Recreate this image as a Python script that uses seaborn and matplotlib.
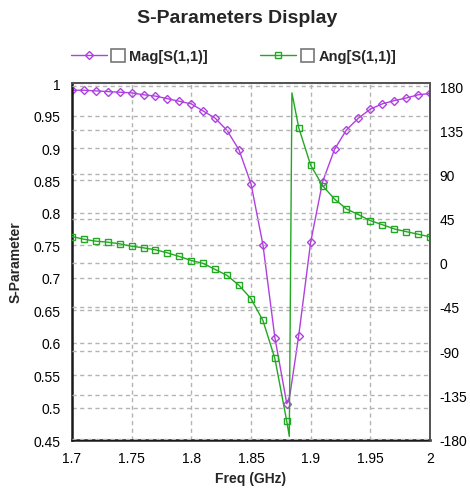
import matplotlib
matplotlib.use("Agg")
import matplotlib.pyplot as plt
import seaborn as sns
from matplotlib.lines import Line2D
from matplotlib.patches import Rectangle
from matplotlib.legend_handler import HandlerBase

mag_freq = [1.70, 1.71, 1.72, 1.73, 1.74, 1.75, 1.76, 1.77, 1.78, 1.79,
            1.80, 1.81, 1.82, 1.83, 1.84, 1.85, 1.86, 1.87, 1.88, 1.8825,
            1.89, 1.90, 1.91, 1.92, 1.93, 1.94, 1.95, 1.96, 1.97, 1.98,
            1.99, 2.00]
mag_s11 = [0.989, 0.989, 0.988, 0.987, 0.986, 0.985, 0.982, 0.980, 0.976, 0.972,
           0.968, 0.957, 0.946, 0.927, 0.897, 0.845, 0.751, 0.608, 0.506, 0.518,
           0.611, 0.755, 0.848, 0.898, 0.928, 0.946, 0.960, 0.968, 0.973, 0.977,
           0.982, 0.984]
mag_marks = [i for i, f in enumerate(mag_freq) if abs(f * 100 - round(f * 100)) < 1e-6]

ang_freq = [1.70, 1.71, 1.72, 1.73, 1.74, 1.75, 1.76, 1.77, 1.78, 1.79,
            1.80, 1.81, 1.82, 1.83, 1.84, 1.85, 1.86, 1.87, 1.88, 1.8821,
            1.8843, 1.89, 1.90, 1.91, 1.92, 1.93, 1.94, 1.95, 1.96, 1.97,
            1.98, 1.99, 2.00]
ang_s11 = [26.7, 24.0, 22.0, 21.0, 19.3, 16.9, 15.2, 13.2, 10.1, 6.4,
           2.3, -0.7, -6.8, -12.9, -23.0, -36.5, -58.8, -97.4, -161.6, -176.8,
           173.0, 137.6, 99.4, 78.4, 64.9, 54.8, 49.0, 42.9, 38.8, 34.5,
           31.7, 29.1, 26.4]
ang_marks = [i for i, f in enumerate(ang_freq) if abs(f * 100 - round(f * 100)) < 1e-6]

x_ticks = [1.7, 1.75, 1.8, 1.85, 1.9, 1.95, 2.0]
x_labels = ["1.7", "1.75", "1.8", "1.85", "1.9", "1.95", "2"]
left_ticks = [0.45, 0.5, 0.55, 0.6, 0.65, 0.7, 0.75, 0.8, 0.85, 0.9, 0.95, 1.0]
left_labels = ["0.45", "0.5", "0.55", "0.6", "0.65", "0.7", "0.75", "0.8", "0.85", "0.9", "0.95", "1"]
right_ticks = [-180, -135, -90, -45, 0, 45, 90, 135, 180]
right_labels = ["-180", "-135", "-90", "-45", "0", "45", "90", "135", "180"]

PURPLE = "#b040e0"
GREEN = "#22a822"
GRID = "#b4b4b4"


class LineBoxHandler(HandlerBase):
    # legend entry: trace line with marker, followed by a gray check box
    def create_artists(self, legend, orig_handle, xdescent, ydescent,
                       width, height, fontsize, trans):
        y = height / 2 - ydescent
        box = height * 1.05
        lw = width - box - 3
        x0 = -xdescent
        line = Line2D([x0, x0 + lw], [y, y], color=orig_handle.get_color(), lw=1)
        mk = Line2D([x0 + lw / 2], [y], marker=orig_handle.get_marker(),
                    markersize=4, markerfacecolor="none",
                    markeredgecolor=orig_handle.get_color(), linestyle="none")
        rect = Rectangle((x0 + lw + 3, y - box / 2), box, box,
                         facecolor="white", edgecolor="#777777", lw=1.2)
        for a in (line, mk, rect):
            a.set_transform(trans)
        return [line, mk, rect]


def main():
    sns.set_style("white")
    plt.rcParams["font.family"] = ["Liberation Sans", "DejaVu Sans"]
    plt.rcParams["axes.unicode_minus"] = False

    fig = plt.figure(figsize=(4.7, 4.89), dpi=100)
    ax = fig.add_axes([0.153, 0.098, 0.762, 0.730])
    ax2 = ax.twinx()

    sns.lineplot(x=mag_freq, y=mag_s11, ax=ax, color=PURPLE, lw=1,
                 marker="D", markersize=4, markevery=mag_marks,
                 markerfacecolor="none", markeredgecolor=PURPLE, markeredgewidth=1)
    sns.lineplot(x=ang_freq, y=ang_s11, ax=ax2, color=GREEN, lw=1,
                 marker="s", markersize=4, markevery=ang_marks,
                 markerfacecolor="none", markeredgecolor=GREEN, markeredgewidth=1)

    ax.set_xlim(1.7, 2.0)
    ax.set_ylim(0.45, 1.0)
    ax2.set_ylim(-180.6, 183)

    ax.set_xticks(x_ticks)
    ax.set_xticklabels(x_labels)
    ax.set_yticks(left_ticks)
    ax.set_yticklabels(left_labels)
    ax2.set_yticks(right_ticks)
    ax2.set_yticklabels(right_labels)

    ax.tick_params(axis="both", length=0, labelsize=10, colors="black", pad=8)
    ax2.tick_params(axis="y", length=0, labelsize=10, colors="black", pad=7)

    ax.grid(True, color=GRID, linestyle=(0, (3, 2.5)), lw=1)
    ax2.grid(True, axis="y", color=GRID, linestyle=(0, (3, 2.5)), lw=1)
    ax.set_axisbelow(True)
    ax2.set_axisbelow(True)

    for side in ["left", "bottom"]:
        ax.spines[side].set_color("#1a1a1a")
        ax.spines[side].set_linewidth(1.8)
    for a in (ax, ax2):
        for side in ["top", "right"]:
            a.spines[side].set_color("#555555")
            a.spines[side].set_linewidth(1.3)
    ax2.spines["left"].set_visible(False)
    ax2.spines["bottom"].set_visible(False)

    ax.set_xlabel("Freq (GHz)", fontsize=10, fontweight="bold", labelpad=4)
    ax.set_ylabel("S-Parameter", fontsize=10, fontweight="bold", labelpad=8)
    ax2.set_ylabel("")

    fig.suptitle("S-Parameters Display", fontsize=14, fontweight="bold",
                 x=0.505, y=0.963, va="center")

    h_mag = Line2D([], [], color=PURPLE, marker="D")
    h_ang = Line2D([], [], color=GREEN, marker="s")
    fig.legend([h_mag, h_ang], ["Mag[S(1,1)]", "Ang[S(1,1)]"],
               handler_map={Line2D: LineBoxHandler()},
               loc="center", bbox_to_anchor=(0.497, 0.883), ncol=2,
               frameon=False, prop={"weight": "bold", "size": 10.5},
               handlelength=3.7, handleheight=1.0, handletextpad=0.3,
               columnspacing=3.6)

    fig.savefig("out.png", dpi=100)


if __name__ == "__main__":
    main()
